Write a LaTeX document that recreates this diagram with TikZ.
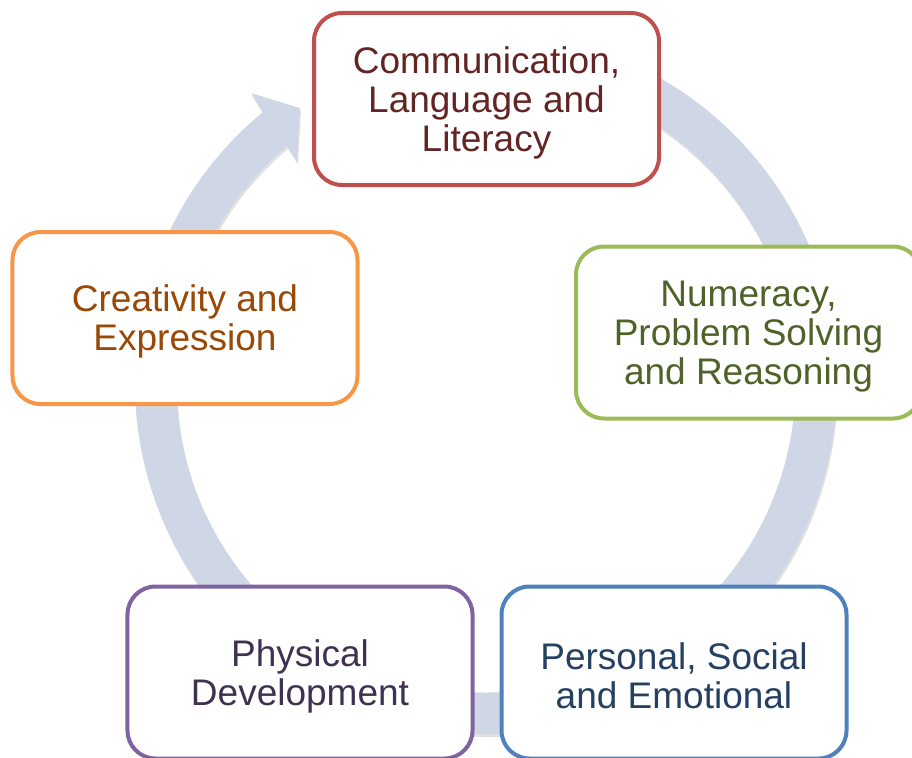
\documentclass[tikz,border=0pt]{standalone}
\usepackage{fontspec}
\setmainfont{Liberation Sans}
\definecolor{ringblue}{RGB}{207,215,231}
\definecolor{commline}{RGB}{192,80,77}
\definecolor{commtext}{RGB}{99,37,35}
\definecolor{numline}{RGB}{155,187,89}
\definecolor{numtext}{RGB}{79,98,40}
\definecolor{persline}{RGB}{79,129,189}
\definecolor{perstext}{RGB}{37,64,97}
\definecolor{physline}{RGB}{128,100,162}
\definecolor{phystext}{RGB}{63,49,81}
\definecolor{crealine}{RGB}{247,150,70}
\definecolor{creatext}{RGB}{152,72,7}
\newcommand{\firstline}{\rule{0pt}{34bp}}

\begin{document}
\begin{tikzpicture}[x=1bp, y=-1bp,
    area/.style={draw=#1, line width=4bp, rounded corners=28bp, fill=white,
      minimum width=345bp, minimum height=172bp, inner sep=0pt, align=center,
      font=\fontsize{37bp}{39bp}\selectfont}]
  \useasboundingbox (0,0) rectangle (912,758);

  \begin{scope}[shift={(486,383)}]
    \fill[black!40, opacity=.3, shift={(1,3)}] (-80:351) arc[start angle=-80, end angle=230.55, radius=351]
      -- (231:373) -- (235.9:332) -- (229.5:291) -- (230:309.5)
      arc[start angle=230, end angle=-80, radius=309.5] -- cycle;
    \fill[ringblue] (-80:351) arc[start angle=-80, end angle=230.55, radius=351]
      -- (231:373) -- (235.9:332) -- (229.5:291) -- (230:309.5)
      arc[start angle=230, end angle=-80, radius=309.5] -- cycle;
  \end{scope}

  \node[area=commline, text=commtext] (comm) at (486.5,99) {\firstline Communication,\\Language and\\Literacy};
  \node[area=numline, text=numtext] (numer) at (748.5,332.5) {\firstline Numeracy,\\Problem Solving\\and Reasoning};
  \node[area=persline, text=perstext] (personal) at (674,672.5) {\firstline Personal, Social\\and Emotional};
  \node[area=physline, text=phystext] (physical) at (300,672.5) {\firstline Physical\\Development};
  \node[area=crealine, text=creatext] (creative) at (185,318) {\firstline Creativity and\\Expression};
\end{tikzpicture}
\end{document}
